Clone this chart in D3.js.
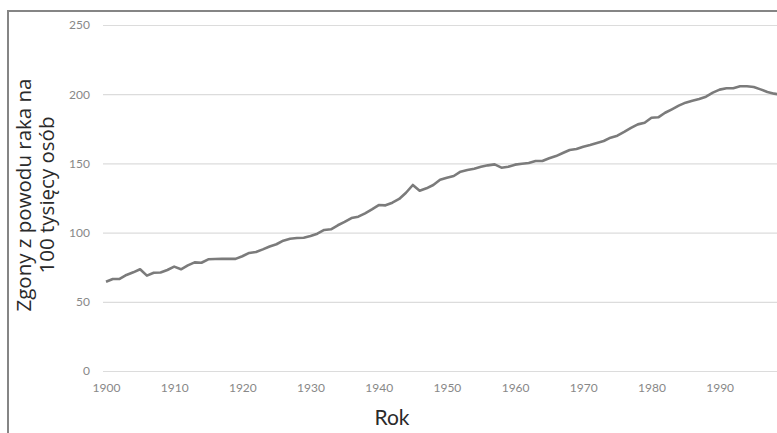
<!DOCTYPE html>
<html><head><meta charset="utf-8">
<script src="https://cdn.jsdelivr.net/npm/d3@7"></script>
<style>body{margin:0;background:#fff;}svg{display:block;}</style>
</head><body><svg id="c" width="777" height="433"></svg>
<script>
const years = d3.range(1900, 2000);
const rates = [
 64.5, 66.5, 66.5, 69.4, 71.3, 73.5, 68.9, 71.0, 71.2, 73.0,
 75.4, 73.5, 76.3, 78.5, 78.2, 80.7, 80.9, 81.0, 81.0, 81.0,
 82.9, 85.3, 86.0, 87.9, 90.0, 91.6, 94.2, 95.6, 96.1, 96.3,
 97.5, 99.2, 101.9, 102.4, 105.3, 107.7, 110.5, 111.5, 113.9, 116.8,
 119.9, 119.7, 121.6, 124.3, 128.8, 134.4, 130.3, 132.0, 134.4, 138.2,
 139.7, 140.9, 144.0, 145.2, 146.2, 147.6, 148.6, 149.3, 146.9, 147.6,
 149.1, 149.8, 150.3, 151.7, 151.7, 153.7, 155.3, 157.5, 159.7, 160.4,
 162.1, 163.3, 164.7, 166.2, 168.6, 170.0, 172.7, 175.6, 178.2, 179.4,
 183.0, 183.3, 186.6, 189.1, 191.7, 193.9, 195.3, 196.5, 198.2, 201.1,
 203.3, 204.3, 204.3, 205.7, 205.7, 205.2, 203.5, 201.6, 200.4, 199.6
];
const yTicks = [0, 50, 100, 150, 200, 250];
const xTicks = [1900, 1910, 1920, 1930, 1940, 1950, 1960, 1970, 1980, 1990];
const xTitle = "Rok";
const yTitleLines = ["Zgony z powodu raka na", "100 tysięcy osób"];

const svg = d3.select("#c");
const x = d3.scaleLinear().domain([1900, 1999]).range([106, 781]);
const y = d3.scaleLinear().domain([0, 250]).range([371, 25]);

// frame
svg.append("rect").attr("x", 8).attr("y", 11).attr("width", 800).attr("height", 460)
  .attr("fill", "none").attr("stroke", "#858585").attr("stroke-width", 2);

// gridlines
const yAxis = d3.axisLeft(y).tickValues(yTicks).tickSize(-(777 - 103)).tickPadding(13);
const gy = svg.append("g").attr("transform", "translate(103,0)").call(yAxis);
gy.select(".domain").remove();
gy.selectAll(".tick line").attr("stroke", "#dcdcdc").attr("stroke-width", 1.2);
gy.selectAll(".tick text").attr("fill", "#888").attr("font-family", "Lato")
  .attr("font-size", 12);

const xAxis = d3.axisBottom(x).tickValues(xTicks).tickFormat(d3.format("d")).tickSize(0).tickPadding(12);
const gx = svg.append("g").attr("transform", "translate(0,371)").call(xAxis);
gx.select(".domain").remove();
gx.selectAll(".tick text").attr("fill", "#888").attr("font-family", "Lato")
  .attr("font-size", 12);

// line
const line = d3.line().x((d, i) => x(years[i])).y(d => y(d));
svg.append("path").datum(rates).attr("d", line).attr("fill", "none")
  .attr("stroke", "#7b7b7b").attr("stroke-width", 2.6).attr("stroke-linejoin", "round");

// titles
svg.append("text").attr("x", 392).attr("y", 425).attr("text-anchor", "middle")
  .attr("font-family", "Lato").attr("font-size", 21).attr("fill", "#2a2a2a").text(xTitle);

const yt = svg.append("text").attr("transform", "translate(35,195) rotate(-90)")
  .attr("text-anchor", "middle").attr("font-family", "Open Sans").attr("font-size", 20.5).attr("fill", "#2a2a2a");
yt.selectAll("tspan").data(yTitleLines).join("tspan")
  .attr("x", 0).attr("dy", (d, i) => i === 0 ? -4 : 23).text(d => d);
</script></body></html>
